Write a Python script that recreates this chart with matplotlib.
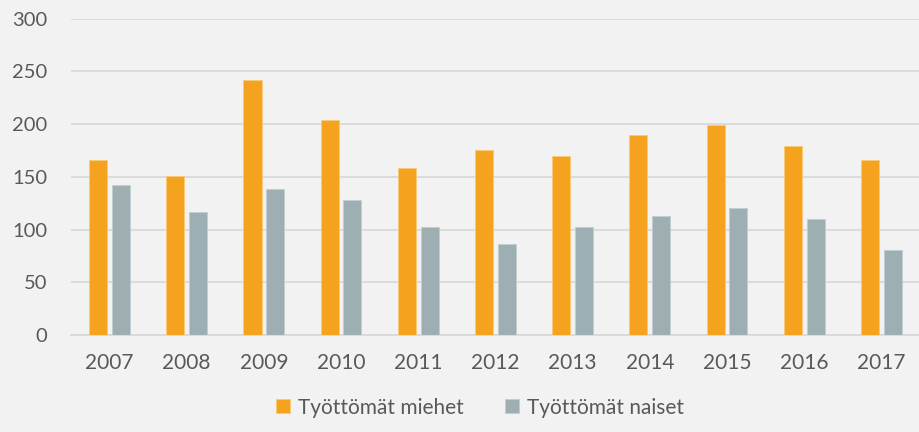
import numpy as np
import matplotlib
matplotlib.use("Agg")
import matplotlib.pyplot as plt

# Datos
vuodet = ["2007", "2008", "2009", "2010", "2011", "2012", "2013", "2014", "2015", "2016", "2017"]
miehet = [166, 151, 242, 204, 158, 175, 170, 190, 199, 179, 166]
naiset = [142, 117, 138, 128, 102, 86, 102, 113, 120, 110, 81]

plt.rcParams['font.family'] = ['Lato', 'DejaVu Sans']

fig = plt.figure(figsize=(9.2, 4.32), dpi=100, facecolor="#F2F2F2")
ax = fig.add_axes([0.077, 0.2245, 0.923, 0.7325])
ax.set_facecolor("#F2F2F2")

x = np.arange(len(vuodet))
leveys = 0.235
vali = 0.03
ax.bar(x - leveys / 2 - vali, miehet, leveys, color="#F5A31E", edgecolor="#F8C978",
       linewidth=0.6, label="Työttömät miehet", zorder=3)
ax.bar(x + leveys / 2 + vali, naiset, leveys, color="#9EAFB4", edgecolor="#C2CDD0",
       linewidth=0.6, label="Työttömät naiset", zorder=3)

ax.set_ylim(0, 300)
ax.set_yticks(range(0, 301, 50))
ax.set_xlim(-0.5, len(vuodet) - 0.5)
ax.set_xticks(x)
ax.set_xticklabels(vuodet)
ax.grid(axis="y", color="#D9D9D9", linewidth=1.3, zorder=0)
ax.tick_params(axis="x", length=0, labelsize=15, colors="#595959", pad=13)
ax.tick_params(axis="y", length=0, labelsize=14.5, colors="#595959", pad=17)
for s in ["top", "right", "left"]:
    ax.spines[s].set_visible(False)
ax.spines["bottom"].set_color("#D9D9D9")
ax.spines["bottom"].set_linewidth(1.3)

fig.legend(loc="lower center", bbox_to_anchor=(0.522, -0.01), ncol=2, frameon=False,
           fontsize=15, labelcolor="#595959", handlelength=0.65, handleheight=0.65,
           handletextpad=0.4, columnspacing=2.0)

fig.savefig("out.png", dpi=100, facecolor=fig.get_facecolor())
